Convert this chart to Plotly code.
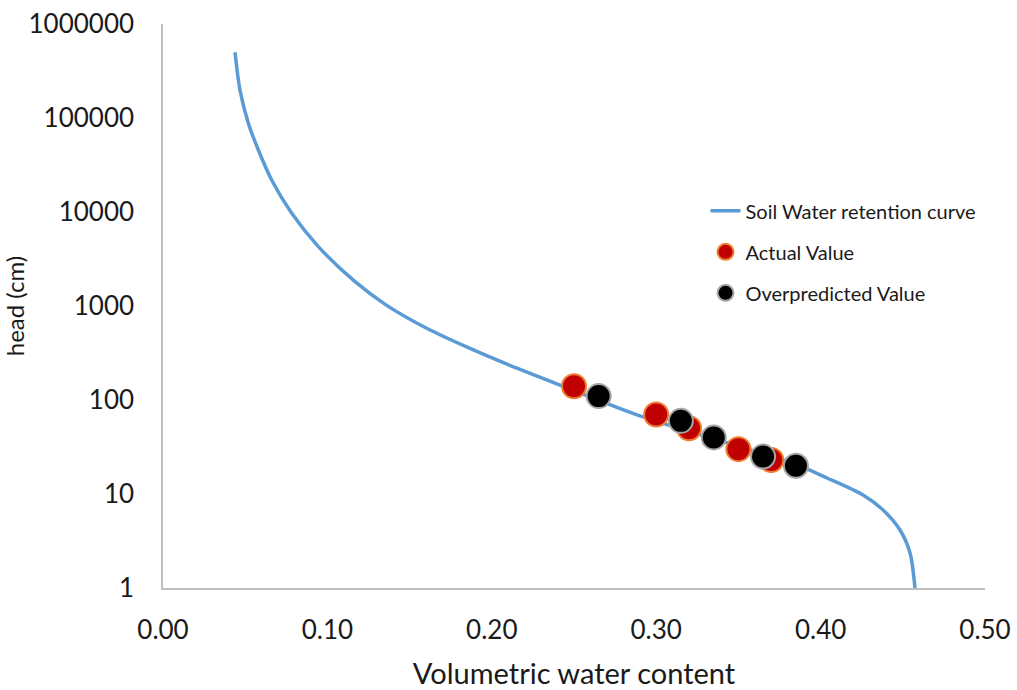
import plotly.graph_objects as go

# Soil water retention curve
curve_theta = [0.0438, 0.0468, 0.0519, 0.058, 0.0661, 0.0783, 0.0945, 0.1168,
               0.1363, 0.1604, 0.185, 0.2153, 0.2433, 0.292, 0.3838, 0.4039,
               0.4258, 0.438, 0.4483, 0.4544, 0.4574]
curve_head = [500000, 199000, 87800, 45700, 21900, 9680, 4280, 1815,
              1010, 580, 365, 218, 140, 66, 21, 14.8,
              9.76, 6.76, 4.14, 2.36, 1.0]

actual_theta = [0.25, 0.30, 0.32, 0.35, 0.37]
actual_head = [140, 70, 50, 30, 23]

over_theta = [0.265, 0.315, 0.335, 0.365, 0.385]
over_head = [110, 60, 40, 25, 20]

y_tickvals = [1, 10, 100, 1000, 10000, 100000, 1000000]
y_ticktext = ["1", "10", "100", "1000", "10000", "100000", "1000000"]
x_tickvals = [0.0, 0.1, 0.2, 0.3, 0.4, 0.5]
x_ticktext = ["0.00", "0.10", "0.20", "0.30", "0.40", "0.50"]

FONT = "Lato"
TXT = "#1a1a1a"

fig = go.Figure()
fig.add_trace(go.Scatter(
    x=curve_theta, y=curve_head, mode="lines", name="Soil Water retention curve",
    line=dict(color="#5B9BD5", width=3.5, shape="spline", smoothing=0.8),
    legendgroup="a"))
fig.add_trace(go.Scatter(
    x=actual_theta, y=actual_head, mode="markers", name="Actual Value",
    marker=dict(size=24, color="#C00000", line=dict(color="#ED7D31", width=2)),
    legendgroup="b"))
fig.add_trace(go.Scatter(
    x=over_theta, y=over_head, mode="markers", name="Overpredicted Value",
    marker=dict(size=24, color="#000000", line=dict(color="#A5A5A5", width=2)),
    legendgroup="c"))

fig.update_layout(
    width=1017, height=690,
    margin=dict(l=163, r=32, t=24, b=102, autoexpand=False),
    paper_bgcolor="white", plot_bgcolor="white",
    font=dict(family=FONT, color=TXT),
    showlegend=True,
    legend=dict(x=0.66, y=0.596, xanchor="left", yanchor="middle",
                font=dict(family=FONT, size=20, color=TXT),
                bgcolor="rgba(0,0,0,0)", tracegroupgap=12,
                itemsizing="trace"),
    xaxis=dict(range=[0, 0.5], tickvals=x_tickvals, ticktext=x_ticktext,
               showgrid=False, zeroline=False, showline=True, automargin=False,
               linecolor="#BFBFBF", linewidth=1.5, ticks="",
               ticklabelstandoff=18,
               tickfont=dict(size=26, family=FONT, color=TXT),
               title=dict(text="Volumetric water content",
                          font=dict(size=29, family=FONT, color=TXT), standoff=24)),
    yaxis=dict(type="log", range=[0, 6], tickvals=y_tickvals, ticktext=y_ticktext,
               showgrid=False, zeroline=False, showline=True, automargin=False,
               linecolor="#BFBFBF", linewidth=1.5, ticks="",
               ticklabelstandoff=22,
               tickfont=dict(size=26, family=FONT, color=TXT),
               title=dict(text="head (cm)",
                          font=dict(size=24, family=FONT, color=TXT), standoff=6)),
)

fig.write_html("out.html")
